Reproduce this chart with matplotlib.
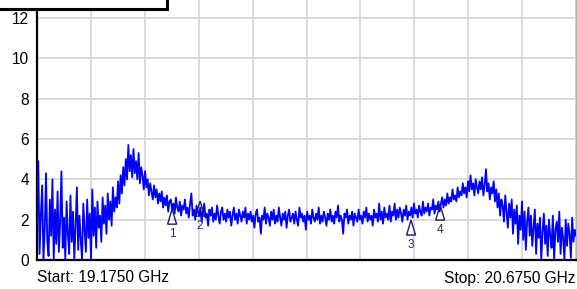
import numpy as np
import matplotlib
matplotlib.use('Agg')
import matplotlib.pyplot as plt
from matplotlib.patches import Polygon, Rectangle

plt.rcParams['font.family'] = ['Liberation Sans', 'DejaVu Sans']

f_start = 19.175
f_stop = 20.675

# trace values (amplitude units)
trace = [
    1.8, 4.9, 0.3, 2.2, 3.7, 0.0, 1.5, 4.3, 0.9, 0.2, 3.0, 1.2, 4.0, 0.0, 2.5, 0.8, 3.4, 0.4, 1.9,
    4.4, 0.6, 2.1, 0.0, 2.9, 1.3, 0.3, 3.2, 0.9, 2.4, 0.0, 1.7, 3.6, 0.5, 2.2, 1.0, 0.0, 2.8, 1.5,
    0.4, 3.0, 1.1, 2.3,
    0.0, 3.5, 1.2, 2.6, 0.6, 2.9, 1.6, 2.2, 0.9, 3.1, 1.8, 2.7, 1.3, 3.3, 2.0, 2.9, 1.7, 3.6, 2.4,
    3.1, 2.6, 3.9,
    2.8, 4.2, 3.3, 4.6, 3.7, 5.0, 4.0, 5.7, 4.4, 5.2, 4.1, 5.5, 4.3, 4.9, 4.0,
    5.3, 3.8, 4.6, 4.2, 3.5, 4.4, 3.6, 4.0, 3.2, 3.8, 3.4, 3.0, 3.7, 3.1, 3.5, 2.8, 3.3,
    2.9, 3.4, 2.6, 3.1, 2.7, 3.2, 2.4, 2.9, 3.0, 2.5, 2.8, 2.3, 3.1, 2.6, 2.4, 2.9, 2.2, 2.7, 2.5,
    3.0, 2.3, 2.6, 2.1, 2.8, 3.3, 2.2, 2.5, 2.0, 2.7, 2.4, 2.2,
    2.6, 1.9, 2.4, 2.8, 2.1, 2.3, 1.7, 2.5, 2.2, 2.6, 1.9, 2.3, 2.0, 2.7, 2.2, 1.8, 2.4, 2.6, 2.0,
    2.3, 1.9, 2.5, 2.1, 2.4, 1.7, 2.2, 2.6, 2.0, 2.3, 1.8, 2.5, 2.2, 1.9, 2.4, 2.1, 2.6, 1.8, 2.3,
    2.0,
    2.4, 1.9, 2.2, 1.6, 2.3, 2.5, 1.9, 2.1, 1.3, 2.2, 2.0, 2.6, 1.8, 2.3, 2.1, 1.7, 2.4, 2.0, 2.5,
    1.8, 2.2, 1.9, 2.6, 2.1, 1.7, 2.3, 2.0, 2.4, 1.6, 2.2,
    2.5, 1.9, 2.1, 2.3, 1.8, 2.4, 2.0, 1.7, 2.6, 2.1, 2.3, 1.9, 2.2, 1.5, 2.4, 2.0, 2.2, 1.8, 2.5,
    2.1, 1.9, 2.3, 2.0, 2.6, 1.8, 2.2, 1.9, 2.4, 2.1, 1.7,
    2.3, 2.0, 2.5, 1.9, 2.2, 1.8, 2.4, 2.1, 2.7, 1.9, 2.2, 2.0, 1.3, 2.3, 2.1, 2.5, 1.8, 2.2, 2.0,
    2.4, 1.7, 2.3, 2.1, 1.9, 2.5, 2.0, 2.2, 1.8, 2.4, 2.1,
    2.6, 1.9, 2.3, 2.0, 2.2, 1.7, 2.5, 2.1, 2.3, 1.9, 2.8, 2.0, 2.4, 1.8, 2.6, 2.1, 2.3, 2.0, 2.7,
    1.9, 2.4, 2.2, 2.8, 2.0, 2.5,
    2.1, 2.6, 2.3, 1.9, 2.5, 2.2, 2.7, 2.0, 2.4, 2.2, 2.6, 2.1, 2.8, 2.3, 2.5, 2.1, 2.7, 2.4, 2.2,
    2.9, 2.3, 2.6, 2.4, 2.8, 2.2, 2.6, 2.5, 3.0, 2.3, 2.7, 2.5,
    2.9, 2.4, 2.8, 3.1, 2.6, 3.0, 2.7, 3.3, 2.8, 3.1, 2.9, 3.5, 3.0, 3.2, 2.9, 3.6, 3.1, 3.4, 3.2,
    3.8, 3.3, 3.6, 3.1, 3.9,
    3.4, 4.2, 3.5, 3.8, 3.2, 4.0, 3.6, 3.3, 3.9, 3.5, 4.1, 3.2, 3.7, 4.5, 3.4, 3.8, 3.0, 3.6, 3.3,
    3.9,
    2.9, 3.5, 2.6, 3.3, 2.2, 3.0, 2.7, 1.9, 3.2, 2.4, 1.6, 2.8, 2.1, 3.0, 1.3, 2.5, 1.8, 2.7, 0.8,
    2.2, 1.5, 2.9, 1.0, 2.4, 0.5, 1.9, 2.6, 1.2,
    2.2, 0.7, 1.6, 2.5, 0.3, 1.8, 1.1, 2.1, 0.0, 1.4, 2.3, 0.8, 1.7, 0.2, 2.0, 1.2, 0.6, 2.2, 0.0,
    1.5, 1.9, 0.9, 2.4, 0.3, 1.6, 1.1, 0.0, 2.0, 0.7, 1.8, 1.3, 0.1, 2.1, 0.9, 1.5, 1.2,
]

# markers
marker_freq = [19.551, 19.629, 20.216, 20.297]
marker_val = [2.52, 2.92, 1.98, 2.72]
marker_lbl = ['1', '2', '3', '4']

fig = plt.figure(figsize=(5.77, 2.89), dpi=100)
ax = fig.add_axes([37 / 577, 29 / 289, 539 / 577, 260 / 289])

freq = np.linspace(f_start, f_stop, len(trace))
ax.plot(freq, trace, color='#0000ff', lw=1.3, zorder=3)

ax.set_xlim(f_start, f_stop)
ax.set_ylim(0, 12.89)
ax.set_xticks(np.linspace(f_start, f_stop, 11))
ax.set_yticks(range(0, 13, 2))
ax.set_xticklabels([])
ax.tick_params(length=0, labelsize=11.2, pad=5.5)
ax.grid(True, color='#d4d4d4', lw=1.2)
ax.set_axisbelow(True)

for s in ['left', 'bottom']:
    ax.spines[s].set_linewidth(1.6)
    ax.spines[s].set_color('black')
ax.spines['top'].set_visible(False)
ax.spines['right'].set_color('#b0b0b0')
ax.spines['right'].set_linewidth(1.0)

# marker triangles, tip on the trace
tw = 4.5 / 539 * (f_stop - f_start)
th = 15 / 260 * 12.89
for fq, v, lb in zip(marker_freq, marker_val, marker_lbl):
    tri = Polygon([[fq, v], [fq - tw, v - th], [fq + tw, v - th]], closed=True,
                  fill=False, edgecolor='#1c1c6c', lw=1.0, zorder=4)
    ax.add_patch(tri)
    ax.annotate(lb, (fq, v - th), xytext=(0, -7), textcoords='offset points',
                ha='center', va='center', fontsize=8.5, color='#2a2a7a', zorder=5)

fig.text(37 / 577, 11 / 289, 'Start: 19.1750 GHz', ha='left', va='center', fontsize=11.2)
fig.text(576 / 577, 11 / 289, 'Stop: 20.6750 GHz', ha='right', va='center', fontsize=11.2)

# cropped info box at top-left
fig.patches.append(Rectangle((-0.02, 280 / 289), 0.02 + 167 / 577, 0.1,
                             transform=fig.transFigure, facecolor='white',
                             edgecolor='black', lw=2.2, zorder=10))

fig.savefig('out.png', dpi=100)
